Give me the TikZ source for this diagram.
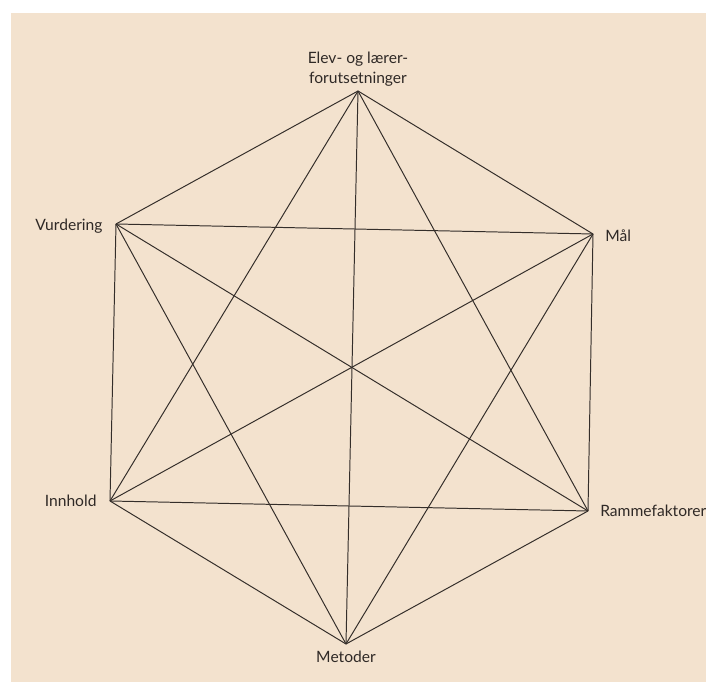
\documentclass[tikz,border=0pt]{standalone}
\usepackage{fontspec}
\setmainfont{Lato}
\usepackage{xcolor}
\usetikzlibrary{positioning}

\definecolor{paper}{RGB}{243,226,206}
\definecolor{ink}{RGB}{52,46,42}

\begin{document}
\begin{tikzpicture}[
  x=0.025cm, y=-0.025cm,
  vertex/.style={coordinate},
  tag/.style={inner sep=0pt, font=\fontsize{11.1}{14.2}\selectfont,
              text=ink!90!black, align=center},
  edge/.style={draw=ink, line width=0.7pt},
]
  % ========= PAGE =========
  \useasboundingbox (0,0) rectangle (706,682);
  \fill[paper] (11,13) rectangle (706,682);

  % Hexagon corners
  \node[vertex] (elev)      at (358, 91)  {};
  \node[vertex] (maal)      at (593, 234) {};
  \node[vertex] (ramme)     at (588, 511) {};
  \node[vertex] (metoder)   at (346, 644) {};
  \node[vertex] (innhold)   at (110, 501) {};
  \node[vertex] (vurdering) at (116, 224) {};

  % Labels
  \node[tag, above=0.1cm of elev]     (elevtxt) {Elev- og lærer-\\forutsetninger};
  \node[tag, right=0.3cm of maal, yshift=-0.05cm] (maaltxt) {Mål};
  \node[tag, right=0.3cm of ramme]    (rammetxt) {Rammefaktorer};
  \node[tag, below=0.17cm of metoder] (metodertxt) {Metoder};
  \node[tag, left=0.33cm of innhold]  (innholdtxt) {Innhold};
  \node[tag, left=0.33cm of vurdering, yshift=-0.05cm] (vurderingtxt) {Vurdering};

  % ========= EVERY CORNER TO EVERY CORNER =========
  \foreach \a/\b in {elev/maal, elev/ramme, elev/metoder, elev/innhold,
                     elev/vurdering, maal/ramme, maal/metoder, maal/innhold,
                     maal/vurdering, ramme/metoder, ramme/innhold,
                     ramme/vurdering, metoder/innhold, metoder/vurdering,
                     innhold/vurdering} {
    \draw[edge] (\a) -- (\b);
  }

\end{tikzpicture}
\end{document}
